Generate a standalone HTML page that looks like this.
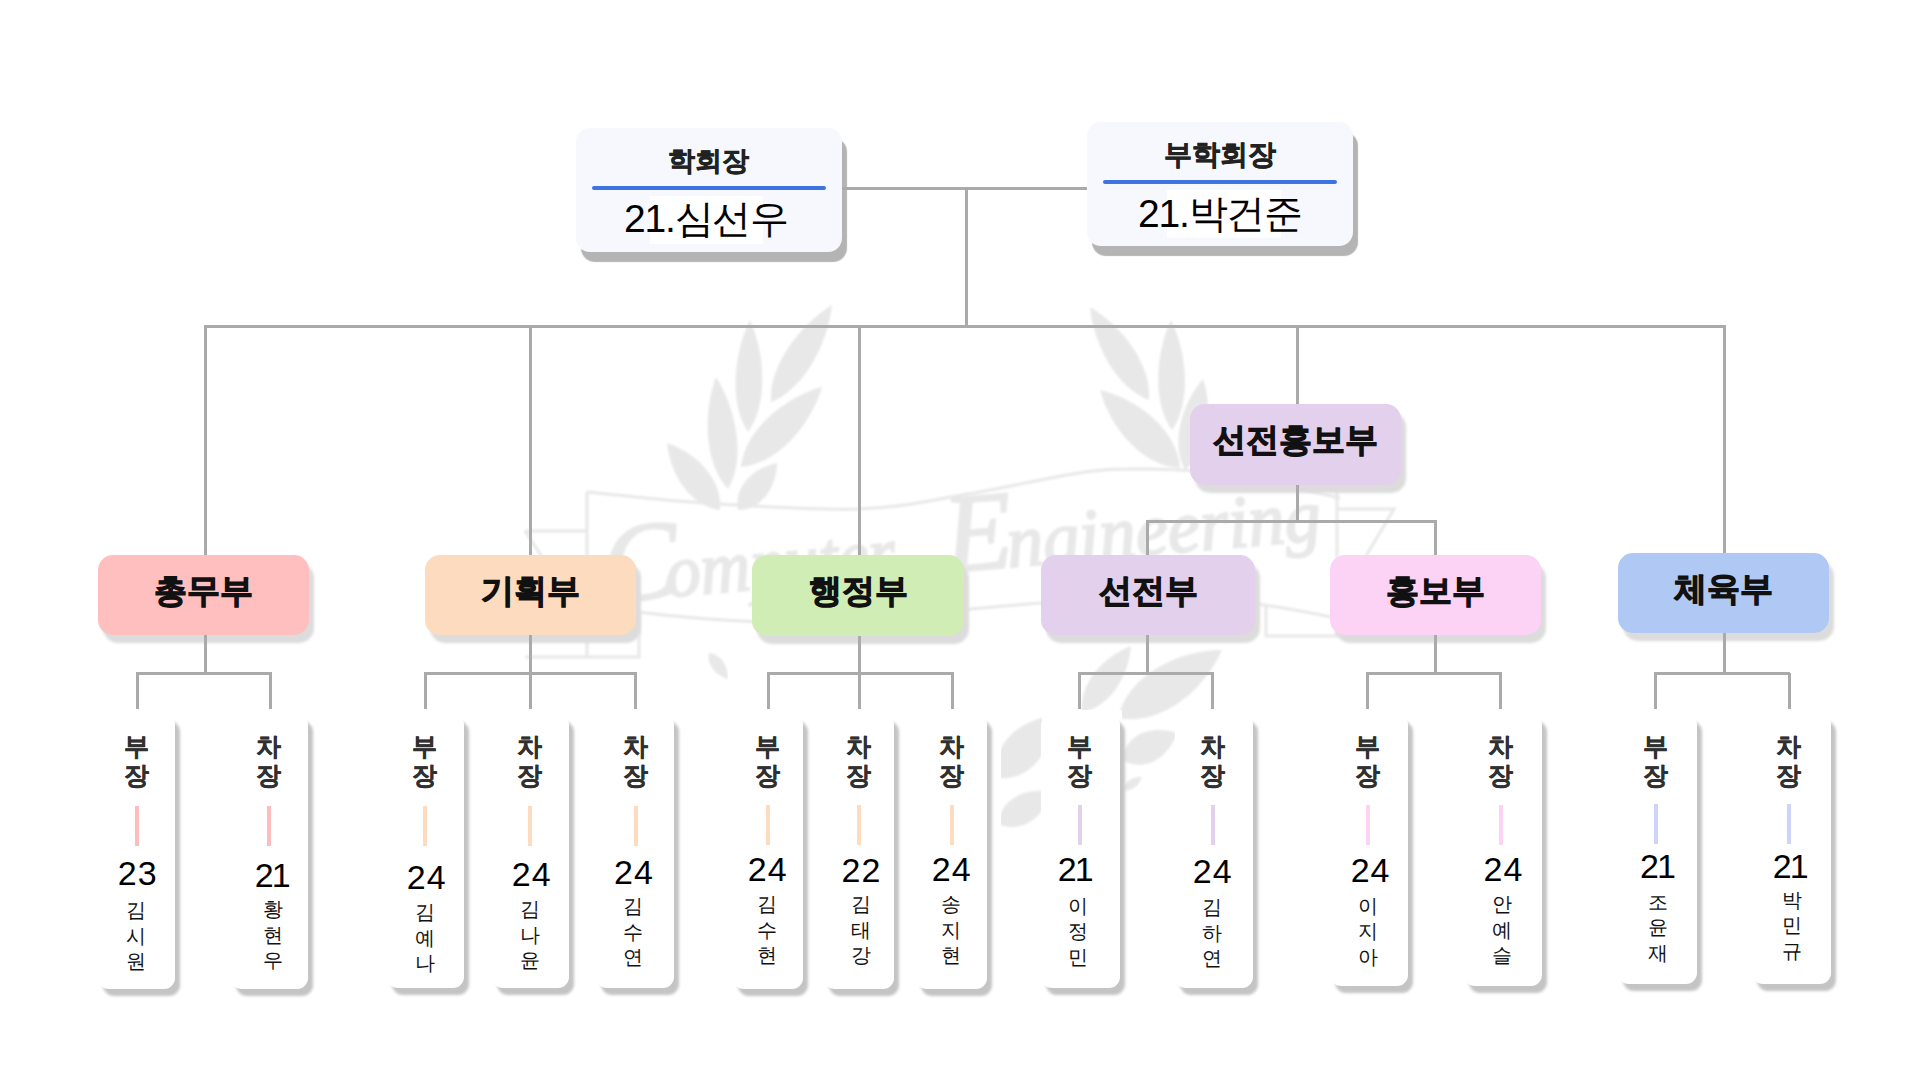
<!DOCTYPE html>
<html><head><meta charset="utf-8"><style>
html,body{margin:0;padding:0;}
body{width:1920px;height:1080px;background:#ffffff;position:relative;overflow:hidden;font-family:"Liberation Sans",sans-serif;}
.ln{position:absolute;}
.top{position:absolute;width:266px;height:124px;background:#f7f8fd;border-radius:14px;box-shadow:5px 10px 1px #b4b4b4;}
.top .t{position:absolute;left:0;width:100%;text-align:center;font-weight:bold;font-size:28px;color:#222;line-height:30px;-webkit-text-stroke:0.6px #222;}
.top .bl{position:absolute;height:4px;background:#3d74e0;border-radius:2px;}
.top .w{position:absolute;background:#ffffff;}
.top .n{position:absolute;left:0;width:100%;text-align:center;font-size:39px;letter-spacing:-1.2px;color:#000;line-height:44px;}
.dept{position:absolute;border-radius:15px;box-shadow:5px 8px 3px #dcdcdc;display:flex;align-items:center;justify-content:center;}
.dept span{font-weight:bold;font-size:33px;color:#111;-webkit-text-stroke:1.1px #111;position:relative;top:-4px;}
.card{position:absolute;background:#fff;border-radius:11px;box-shadow:5px 7px 3px #c4c4c4;}
.role{position:absolute;width:60px;text-align:center;font-weight:bold;font-size:25px;line-height:29px;color:#303030;-webkit-text-stroke:0.35px #303030;}
.cl{position:absolute;width:4px;height:40px;}
.num{position:absolute;width:80px;text-align:center;font-size:34px;line-height:36px;color:#000;}
.nm{position:absolute;width:60px;text-align:center;font-size:20px;line-height:25.5px;color:#111;}
</style></head><body>
<svg style="position:absolute;left:0;top:0" width="1920" height="1080"><defs><filter id="bl" x="-10%" y="-10%" width="120%" height="120%"><feGaussianBlur stdDeviation="1.2"/></filter></defs><g filter="url(#bl)"><g fill="#e8e8e8"><path d="M748.0,432.0 C768.3,404.4 765.2,353.9 750.0,320.0 C733.6,353.3 728.7,403.6 748.0,432.0Z"/><path d="M771.0,402.0 C804.1,389.0 828.0,343.1 832.0,305.0 C799.4,325.1 768.4,366.5 771.0,402.0Z"/><path d="M728.0,489.0 C746.0,458.8 736.4,408.8 716.0,377.0 C702.8,412.4 704.0,463.2 728.0,489.0Z"/><path d="M741.0,467.0 C777.9,463.9 811.1,424.5 822.0,387.0 C784.3,397.5 744.6,430.1 741.0,467.0Z"/><path d="M720.0,510.0 C723.3,480.1 696.2,452.6 667.0,443.0 C669.6,473.6 690.2,506.4 720.0,510.0Z"/><path d="M738.0,510.0 C762.0,510.1 776.7,486.5 777.0,463.0 C753.9,467.7 733.5,486.4 738.0,510.0Z"/><path d="M1149.0,400.0 C1152.1,365.4 1122.0,325.8 1090.0,307.0 C1093.4,344.0 1116.4,388.1 1149.0,400.0Z"/><path d="M1172.0,430.0 C1191.5,402.3 1187.1,352.9 1171.0,320.0 C1155.5,353.1 1152.0,402.7 1172.0,430.0Z"/><path d="M1180.0,468.0 C1177.5,430.5 1138.0,399.0 1100.0,390.0 C1110.0,427.8 1142.5,466.5 1180.0,468.0Z"/><path d="M1185.0,470.0 C1208.9,451.1 1213.1,409.4 1203.0,379.0 C1182.1,403.2 1170.1,443.4 1185.0,470.0Z"/><path d="M1082.0,712.0 C1110.1,707.3 1129.0,675.2 1131.0,646.0 C1103.6,656.4 1078.4,683.7 1082.0,712.0Z"/><path d="M1118.0,718.0 C1160.6,726.4 1204.1,690.7 1222.0,650.0 C1177.5,650.1 1127.4,675.6 1118.0,718.0Z"/><path d="M1122.0,760.0 C1145.6,773.4 1168.4,757.2 1177.0,733.0 C1152.6,725.0 1125.9,733.1 1122.0,760.0Z"/><path d="M998.0,778.0 C1032.4,780.7 1052.5,749.2 1052.0,716.0 C1019.1,720.0 990.6,744.3 998.0,778.0Z"/><path d="M998.0,824.0 C1022.3,834.2 1044.4,816.1 1052.0,792.0 C1027.2,787.1 1000.7,797.8 998.0,824.0Z"/><path d="M1123.0,790.0 C1131.5,792.2 1139.3,785.3 1142.0,777.0 C1133.3,776.5 1124.0,781.3 1123.0,790.0Z"/><path d="M709.0,653.0 C706.3,665.0 716.3,675.6 728.0,679.0 C728.3,666.8 721.2,654.0 709.0,653.0Z"/></g><g fill="none" stroke="#e8e8e8" stroke-width="3"><path d="M587,492 C606.3,493.8 657.8,500.2 703,503 C748.2,505.8 813.8,510.5 858,509 C902.2,507.5 931.2,500.0 968,494 C1004.8,488.0 1049.5,477.2 1079,473 C1108.5,468.8 1119.2,468.7 1145,469 C1170.8,469.3 1201.5,470.2 1234,475 C1266.5,479.8 1322.3,494.2 1340,498"/><path d="M637,612 C720,622 800,626 870,619 C960,610 1050,600 1150,597 C1230,597 1290,608 1340,619"/><path d="M587,492 L587,657 M525,657 L639,657 L639,612 M525,531 L587,531 M525,531 L548,566"/><path d="M1337,490 L1337,636 L1266,636 L1266,606"/><path d="M1337,509 L1394,509 L1366,556"/></g><g transform="rotate(-5 610 600)" fill="#e8e8e8" stroke="#e8e8e8" stroke-width="2.2" font-family="Liberation Serif" font-style="italic"><text x="606" y="602" font-size="112">C</text><text x="668" y="602" font-size="74" textLength="230" lengthAdjust="spacingAndGlyphs">omputer</text><text x="948" y="602" font-size="112">E</text><text x="1010" y="602" font-size="74" textLength="315" lengthAdjust="spacingAndGlyphs">ngineering</text></g></g><rect x="728" y="636" width="273" height="360" fill="#fff"/><rect x="1042" y="710" width="80" height="280" fill="#fff"/></svg>
<div class="top" style="left:576px;top:128px;">
  <div class="t" style="top:18px;left:-1px;font-size:27px">학회장</div>
  <div class="bl" style="left:16px;width:234px;top:58px"></div>
  <div class="w" style="left:74px;top:68px;width:113px;height:48px"></div>
  <div class="n" style="top:69px;left:-3px">21.심선우</div>
</div>
<div class="top" style="left:1087px;top:122px;">
  <div class="t" style="top:18px">부학회장</div>
  <div class="bl" style="left:16px;width:234px;top:58px"></div>
  <div class="w" style="left:80px;top:68px;width:114px;height:48px"></div>
  <div class="n" style="top:70px">21.박건준</div>
</div>
<div class="dept" style="left:98px;top:555px;width:211px;height:80px;background:#ffbfbf"><span>총무부</span></div><div class="dept" style="left:425px;top:555px;width:211px;height:80px;background:#fcdbbe"><span>기획부</span></div><div class="dept" style="left:752px;top:555px;width:212px;height:81px;background:#d0edb5"><span>행정부</span></div><div class="dept" style="left:1041px;top:555px;width:214px;height:80px;background:#e2d0ec"><span>선전부</span></div><div class="dept" style="left:1330px;top:555px;width:211px;height:80px;background:#fcd2f5"><span>홍보부</span></div><div class="dept" style="left:1618px;top:553px;width:211px;height:80px;background:#b0c8f4"><span>체육부</span></div><div class="dept" style="left:1190px;top:404px;width:211px;height:81px;background:#e2d0ec"><span>선전홍보부</span></div>
<div class="card" style="left:98px;top:714px;width:77px;height:275px"></div><div class="role" style="left:106.0px;top:732px">부<br>장</div><div class="cl" style="left:134.5px;top:806px;background:#fdbdbd"></div><div class="num" style="left:97.7px;top:855px;letter-spacing:1px">23</div><div class="nm" style="left:105.5px;top:898px">김<br>시<br>원</div><div class="card" style="left:231px;top:714px;width:77px;height:275px"></div><div class="role" style="left:238.2px;top:732px">차<br>장</div><div class="cl" style="left:266.8px;top:806px;background:#fdbdbd"></div><div class="num" style="left:231.7px;top:857px;letter-spacing:-2px">21</div><div class="nm" style="left:243.2px;top:897px">황<br>현<br>우</div><div class="card" style="left:387px;top:714px;width:76.5px;height:274px"></div><div class="role" style="left:394.4px;top:732px">부<br>장</div><div class="cl" style="left:422.9px;top:806px;background:#fcdbbe"></div><div class="num" style="left:386.7px;top:859px;letter-spacing:1px">24</div><div class="nm" style="left:395.4px;top:900px">김<br>예<br>나</div><div class="card" style="left:492px;top:714px;width:77px;height:274px"></div><div class="role" style="left:499.9px;top:732px">차<br>장</div><div class="cl" style="left:528.4px;top:806px;background:#fcdbbe"></div><div class="num" style="left:491.7px;top:856px;letter-spacing:1px">24</div><div class="nm" style="left:500.0px;top:897px">김<br>나<br>윤</div><div class="card" style="left:596px;top:714px;width:78px;height:274px"></div><div class="role" style="left:605.4px;top:732px">차<br>장</div><div class="cl" style="left:633.9px;top:806px;background:#fcdbbe"></div><div class="num" style="left:594.0px;top:854px;letter-spacing:1px">24</div><div class="nm" style="left:602.5px;top:894px">김<br>수<br>연</div><div class="card" style="left:733px;top:714px;width:69.5px;height:275px"></div><div class="role" style="left:737.5px;top:732px">부<br>장</div><div class="cl" style="left:766.0px;top:805px;background:#fcdbbe"></div><div class="num" style="left:727.7px;top:851.4px;letter-spacing:1px">24</div><div class="nm" style="left:737.1px;top:892px">김<br>수<br>현</div><div class="card" style="left:824px;top:714px;width:70px;height:275px"></div><div class="role" style="left:828.8px;top:732px">차<br>장</div><div class="cl" style="left:857.3px;top:805px;background:#fcdbbe"></div><div class="num" style="left:821.4px;top:852px;letter-spacing:1px">22</div><div class="nm" style="left:830.7px;top:892px">김<br>태<br>강</div><div class="card" style="left:916px;top:714px;width:71px;height:275px"></div><div class="role" style="left:921.8px;top:732px">차<br>장</div><div class="cl" style="left:950.2px;top:805px;background:#fcdbbe"></div><div class="num" style="left:911.7px;top:850.8px;letter-spacing:1px">24</div><div class="nm" style="left:920.5px;top:892px">송<br>지<br>현</div><div class="card" style="left:1041px;top:714px;width:79px;height:274px"></div><div class="role" style="left:1049.1px;top:732px">부<br>장</div><div class="cl" style="left:1077.6px;top:805px;background:#e2d0ec"></div><div class="num" style="left:1034.7px;top:851.4px;letter-spacing:-2px">21</div><div class="nm" style="left:1047.7px;top:893.8px">이<br>정<br>민</div><div class="card" style="left:1175px;top:714px;width:78px;height:274px"></div><div class="role" style="left:1182.9px;top:732px">차<br>장</div><div class="cl" style="left:1211.4px;top:805px;background:#e2d0ec"></div><div class="num" style="left:1172.7px;top:853px;letter-spacing:1px">24</div><div class="nm" style="left:1181.6px;top:895px">김<br>하<br>연</div><div class="card" style="left:1330px;top:714px;width:78px;height:272px"></div><div class="role" style="left:1337.8px;top:732px">부<br>장</div><div class="cl" style="left:1366.3px;top:805px;background:#fcd2f5"></div><div class="num" style="left:1330.6px;top:852px;letter-spacing:1px">24</div><div class="nm" style="left:1337.7px;top:893.8px">이<br>지<br>아</div><div class="card" style="left:1464px;top:714px;width:78px;height:272px"></div><div class="role" style="left:1470.9px;top:732px">차<br>장</div><div class="cl" style="left:1499.4px;top:805px;background:#fcd2f5"></div><div class="num" style="left:1463.5px;top:850.8px;letter-spacing:1px">24</div><div class="nm" style="left:1471.6px;top:892px">안<br>예<br>슬</div><div class="card" style="left:1618px;top:714px;width:79px;height:270px"></div><div class="role" style="left:1625.8px;top:732px">부<br>장</div><div class="cl" style="left:1654.3px;top:804px;background:#cdd3fb"></div><div class="num" style="left:1617.0px;top:848.3px;letter-spacing:-2px">21</div><div class="nm" style="left:1627.7px;top:889.7px">조<br>윤<br>재</div><div class="card" style="left:1752px;top:714px;width:79px;height:270px"></div><div class="role" style="left:1758.2px;top:732px">차<br>장</div><div class="cl" style="left:1786.8px;top:804px;background:#cdd3fb"></div><div class="num" style="left:1749.7px;top:847.6px;letter-spacing:-2px">21</div><div class="nm" style="left:1762.1px;top:887.5px">박<br>민<br>규</div>
<div class="ln" style="left:842.0px;top:187.0px;width:245.0px;height:3px;background:#aaaaaa"></div><div class="ln" style="left:964.5px;top:188.0px;width:3px;height:139.0px;background:#aaaaaa"></div><div class="ln" style="left:204.0px;top:324.5px;width:1522.0px;height:3px;background:#aaaaaa"></div><div class="ln" style="left:204.0px;top:326.0px;width:3px;height:229.0px;background:#aaaaaa"></div><div class="ln" style="left:529.0px;top:326.0px;width:3px;height:229.0px;background:#aaaaaa"></div><div class="ln" style="left:858.0px;top:326.0px;width:3px;height:229.0px;background:#aaaaaa"></div><div class="ln" style="left:1296.0px;top:326.0px;width:3px;height:78.0px;background:#aaaaaa"></div><div class="ln" style="left:1722.5px;top:326.0px;width:3px;height:227.0px;background:#aaaaaa"></div><div class="ln" style="left:1296.0px;top:485.0px;width:3px;height:37.0px;background:#aaaaaa"></div><div class="ln" style="left:1145.5px;top:520.0px;width:291.5px;height:3px;background:#aaaaaa"></div><div class="ln" style="left:1145.5px;top:521.0px;width:3px;height:34.0px;background:#aaaaaa"></div><div class="ln" style="left:1434.0px;top:521.0px;width:3px;height:34.0px;background:#aaaaaa"></div><div class="ln" style="left:204.0px;top:635.0px;width:3px;height:38.0px;background:#aaaaaa"></div><div class="ln" style="left:135.5px;top:671.5px;width:136.5px;height:3px;background:#aaaaaa"></div><div class="ln" style="left:135.5px;top:673.0px;width:3px;height:36.0px;background:#aaaaaa"></div><div class="ln" style="left:269.0px;top:673.0px;width:3px;height:36.0px;background:#aaaaaa"></div><div class="ln" style="left:529.0px;top:635.0px;width:3px;height:38.0px;background:#aaaaaa"></div><div class="ln" style="left:423.5px;top:671.5px;width:213.7px;height:3px;background:#aaaaaa"></div><div class="ln" style="left:423.5px;top:673.0px;width:3px;height:36.0px;background:#aaaaaa"></div><div class="ln" style="left:529.0px;top:673.0px;width:3px;height:36.0px;background:#aaaaaa"></div><div class="ln" style="left:634.2px;top:673.0px;width:3px;height:36.0px;background:#aaaaaa"></div><div class="ln" style="left:858.0px;top:636.0px;width:3px;height:37.0px;background:#aaaaaa"></div><div class="ln" style="left:766.5px;top:671.5px;width:187.0px;height:3px;background:#aaaaaa"></div><div class="ln" style="left:766.5px;top:673.0px;width:3px;height:36.0px;background:#aaaaaa"></div><div class="ln" style="left:858.0px;top:673.0px;width:3px;height:36.0px;background:#aaaaaa"></div><div class="ln" style="left:950.5px;top:673.0px;width:3px;height:36.0px;background:#aaaaaa"></div><div class="ln" style="left:1145.5px;top:635.0px;width:3px;height:38.0px;background:#aaaaaa"></div><div class="ln" style="left:1077.5px;top:671.5px;width:136.0px;height:3px;background:#aaaaaa"></div><div class="ln" style="left:1077.5px;top:673.0px;width:3px;height:36.0px;background:#aaaaaa"></div><div class="ln" style="left:1210.5px;top:673.0px;width:3px;height:36.0px;background:#aaaaaa"></div><div class="ln" style="left:1434.0px;top:635.0px;width:3px;height:38.0px;background:#aaaaaa"></div><div class="ln" style="left:1365.7px;top:671.5px;width:136.0px;height:3px;background:#aaaaaa"></div><div class="ln" style="left:1365.7px;top:673.0px;width:3px;height:36.0px;background:#aaaaaa"></div><div class="ln" style="left:1498.7px;top:673.0px;width:3px;height:36.0px;background:#aaaaaa"></div><div class="ln" style="left:1722.5px;top:633.0px;width:3px;height:40.0px;background:#aaaaaa"></div><div class="ln" style="left:1654.2px;top:671.5px;width:136.3px;height:3px;background:#aaaaaa"></div><div class="ln" style="left:1654.2px;top:673.0px;width:3px;height:36.0px;background:#aaaaaa"></div><div class="ln" style="left:1787.5px;top:673.0px;width:3px;height:36.0px;background:#aaaaaa"></div>
</body></html>
